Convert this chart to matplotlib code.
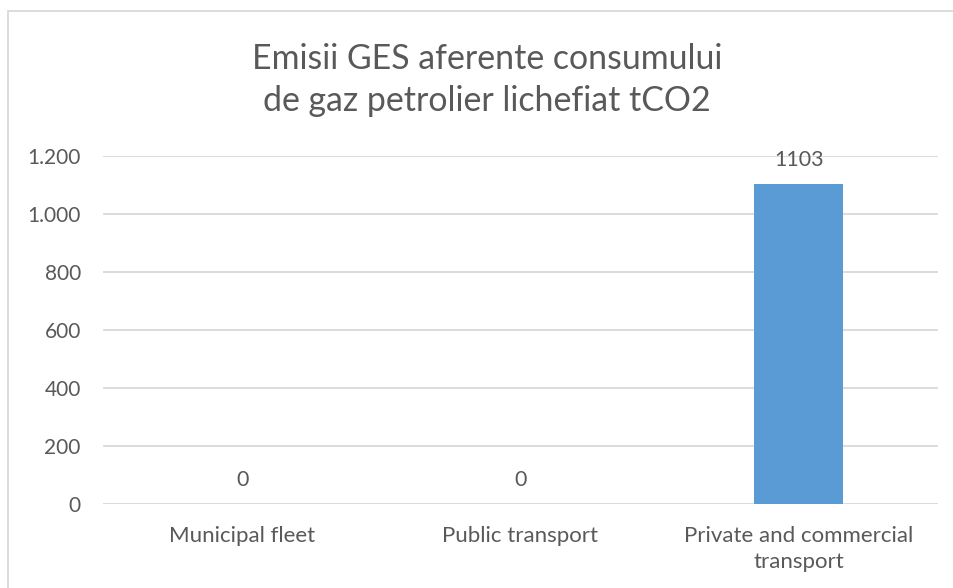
import numpy as np
import matplotlib.pyplot as plt
from matplotlib.patches import Rectangle
from matplotlib.ticker import FuncFormatter

categories = ["Municipal fleet", "Public transport", "Private and commercial\ntransport"]
values = [0, 0, 1103]
yticks = [0, 200, 400, 600, 800, 1000, 1200]
title = "Emisii GES aferente consumului\nde gaz petrolier lichefiat tCO2"

text_col = "#595959"
grid_col = "#D9D9D9"
bar_col = "#5B9BD5"

plt.rcParams['font.family'] = ['Lato', 'DejaVu Sans']

W, H = 954, 588
fig = plt.figure(figsize=(W / 100, H / 100), dpi=100)

# chart area border (cut by the image on right / bottom)
fig.patches.append(Rectangle((8 / W, -0.1), 1.2, 1.1 - 11 / H, transform=fig.transFigure,
                             fill=False, edgecolor=grid_col, linewidth=1.3))

ax = fig.add_axes([103 / W, 1 - 504 / H, (938 - 103) / W, (504 - 156) / H])
x = np.arange(len(categories))
bars = ax.bar(x, values, width=0.32, color=bar_col, zorder=3)
ax.bar_label(bars, labels=[str(v) for v in values], padding=10, fontsize=15.5, color=text_col)

ax.set_xlim(-0.5, len(categories) - 0.5)
ax.set_ylim(0, 1200)
ax.set_yticks(yticks)
ax.yaxis.set_major_formatter(FuncFormatter(lambda v, p: f"{int(v):,}".replace(",", ".")))
ax.set_xticks(x)
ax.set_xticklabels(categories, multialignment="center", linespacing=1.35)
ax.tick_params(axis="y", length=0, pad=16, labelsize=15, labelcolor=text_col)
ax.tick_params(axis="x", length=0, pad=16, labelsize=16, labelcolor=text_col)
ax.grid(axis="y", color=grid_col, linewidth=1.3, zorder=0)
for s in ax.spines.values():
    s.set_visible(False)

fig.text(487 / W, 1 - 80 / H, title, ha="center", va="center", fontsize=24.4,
         color=text_col, linespacing=1.4)

fig.savefig("out.png", dpi=100)
